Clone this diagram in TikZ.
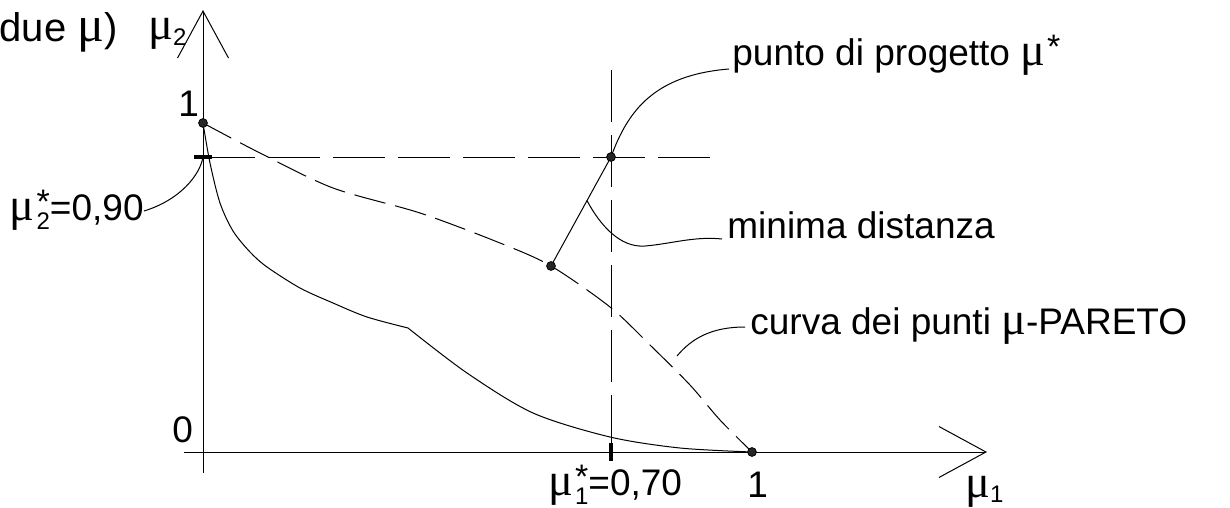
\documentclass[tikz,border=0pt]{standalone}
\usepackage{fontspec}
\setmainfont{Liberation Sans}
\newfontfamily\grk{Liberation Serif}[Scale=1.25]
\usetikzlibrary{arrows.meta}
\newcommand{\smallfont}{\fontsize{12}{12}\selectfont}
\newcommand{\gmu}{{\grk μ}}
\newcommand{\optstar}{\raisebox{3.5pt}{\fontsize{17}{17}\selectfont*}}
\newcommand{\musub}[1]{\gmu\ensuremath{_{\hbox{\smallfont#1}}}}
\newcommand{\mustar}[1]{\gmu\kern1pt\rlap{\raisebox{-4.5pt}{\smallfont#1}}\optstar}

\begin{document}
\begin{tikzpicture}[x=0.5pt,y=-0.5pt,
  lab/.style={inner sep=0pt,font=\fontsize{18.5}{20}\selectfont},
  dot/.style={circle,fill=black!85,draw=black,line width=0.4pt,inner sep=0pt,minimum size=4.4pt},
  axis/.style={line width=0.5pt,-{Straight Barb[length=23.5pt,width=25.5pt]}},
  grid/.style={line width=0.5pt,dash pattern=on 26pt off 6.5pt},
  pareto/.style={line width=0.5pt,dash pattern=on 16pt off 5pt},
  curve/.style={line width=0.5pt},
  tick/.style={line width=2.2pt},
  leader/.style={line width=0.5pt},
]
\useasboundingbox (0,0) rectangle (1230,508);

\coordinate (yb) at (203,473);
\coordinate (yt) at (203,10);
\coordinate (xl) at (184,452);
\coordinate (xr) at (987,452);
\coordinate (A) at (203,123);
\coordinate (B) at (752,452);
\coordinate (M) at (551,266);
\coordinate (P) at (611,157);
\coordinate (t2) at (203,157);
\coordinate (t1) at (611,452);
\coordinate (h) at (713,157);
\coordinate (v) at (611,70);
\coordinate (c0) at (677,356);

\node[lab,anchor=base east,font=\fontsize{20}{22}\selectfont] (due) at (118,42) {due \gmu)};
\node[lab,anchor=base west] (lmu2) at (148,40) {\musub{2}};
\node[lab,anchor=base west] (l1y) at (178,117) {1};
\node[lab,anchor=base west] (l0) at (172,442) {0};
\node[lab,anchor=base east] (lm2) at (144,220) {\mustar{2}=0,90};
\node[lab,anchor=base west] (lm1) at (548,495) {\mustar{1}=0,70};
\node[lab,anchor=base west] (l1x) at (747,497) {1};
\node[lab,anchor=base west] (lmu1) at (965,497) {\musub{1}};
\node[lab,anchor=base west] (labP) at (732,66) {punto di progetto \gmu\kern1pt\optstar};
\node[lab,anchor=base west] (labM) at (727,238) {minima distanza};
\node[lab,anchor=base west] (labC) at (750,334) {curva dei punti \gmu-PARETO};

\draw[axis] (yb) -- (yt);
\draw[axis] (xl) -- (xr);
\draw[grid] (t2) -- (h);
\draw[grid] (v) -- (t1);
\draw[tick] ([xshift=-4.5pt]t2) -- ([xshift=4.5pt]t2);
\draw[tick] ([yshift=4.5pt]t1) -- ([yshift=-4.5pt]t1);

\draw[curve] plot[smooth] coordinates {(203,123) (210,163) (220,203) (233,231) (250,252) (267,267) (300,288) (333,303) (367,317) (408,328)};
\draw[curve] plot[smooth] coordinates {(408,328) (467,373) (533,413) (610,437) (680,448) (752,452)};
\draw[pareto] plot[smooth] coordinates {(203,123) (260,153) (333,188) (420,213) (500,243) (551,266) (610,307) (650,345) (690,385) (720,420) (752,452)};

\draw[curve] (M) -- (P) coordinate[pos=0.6] (F);
\draw[leader] (P) .. controls (628,110) and (655,75) .. ([xshift=-1.5pt,yshift=-1.5pt]labP.base west);
\draw[leader] (F) .. controls (600,225) and (620,248) .. (645,246) .. controls (670,244) and (695,236) .. ([xshift=-2.5pt,yshift=-0.5pt]labM.base west);
\draw[leader] (c0) .. controls (692,338) and (712,327) .. ([xshift=-2.5pt,yshift=3.5pt]labC.base west);
\draw[leader] (t2) .. controls (200,175) and (180,200) .. ([yshift=4.5pt]lm2.base east);

\foreach \p in {A,B,M,P} \node[dot] at (\p) {};
\end{tikzpicture}
\end{document}
